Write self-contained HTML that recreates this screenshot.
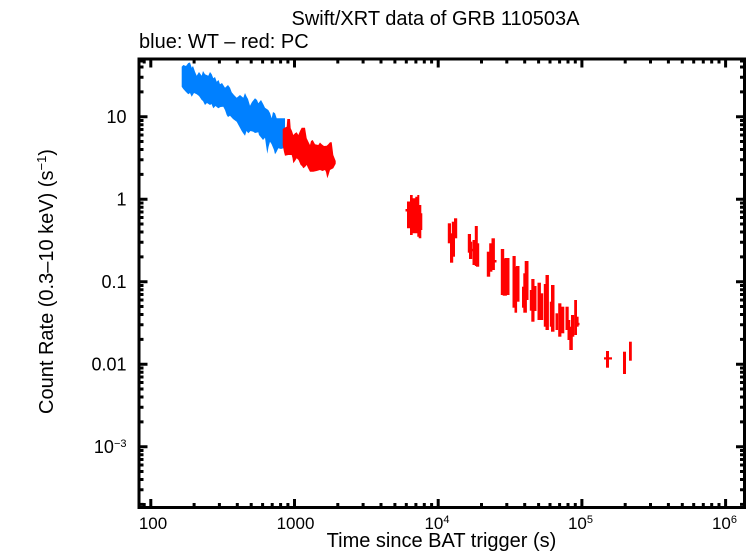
<!DOCTYPE html>
<html>
<head>
<meta charset="utf-8">
<style>
html,body{margin:0;padding:0;background:#fff;}
svg{display:block;}
text{font-family:"Liberation Sans",Arial,sans-serif;fill:#000;}
</style>
</head>
<body>
<svg width="752" height="558" viewBox="0 0 752 558" xmlns="http://www.w3.org/2000/svg">
<rect x="0" y="0" width="752" height="558" fill="#fff"/>
<text x="435.5" y="25" font-size="20" text-anchor="middle">Swift/XRT data of GRB 110503A</text>
<text x="139" y="48" font-size="20">blue: WT – red: PC</text>
<polygon fill="#0080ff" points="181.7,66.7 183.3,65 186,66 188.3,63 190,62.5 191.7,67.7 193,66 195,71.7 196.7,75.7 199,72 201.7,75.7 203,71 205,74.3 208.3,75.7 210,72 211.7,74.3 213.3,78.3 215,77 216.7,81.7 218.5,80 220,84.3 222,83 225,87.7 228,85 230,87.7 231.7,92.3 234,95 236.7,97.7 240,95 243.3,97.7 245,93 246.7,96.7 248,99 250,105.7 252,102 255,98.3 257,100 258.3,103.3 261,100 263.3,104.3 265,107.7 268.3,110 270,113 271.7,118.3 273,112 275,113.3 276.7,118.3 280,118.3 285,118.3 285,147.7 281,149 278.3,148.3 276.5,152 275,154.3 274,150 273.3,148.3 271.5,144 270,141.7 268.5,147 267.3,153.7 266,145 265,137.7 263,140 261.7,138.3 259,135 258.3,132.3 255,133 253.3,131.7 250.5,131 248.3,133.3 246.5,131 245,135.7 243,133 241.7,131 239,126 236.7,121.7 233,119 230,115.7 228,117 226.7,115 225,110 223.3,106.7 220.5,107 218.3,108.3 215.5,106 213.3,108.3 211.5,104 210,105 207,103 205,105 203,101 201.7,100 199,96 196.7,94.3 194,93 191.7,96.7 190,93 188.3,94.3 186,92 183.3,89 181.7,86.7"/>
<g fill="#ff0000">
<polygon points="282.7,129 285,127.5 286.7,126.7 287.3,119 290,119 290.7,128.3 292,131 293.3,135 295,133.3 296.7,132.3 298.3,135 300,131 301.7,127.7 305,127.7 306.7,138.3 308.5,142 310,145 311,141 312.7,140 315,144.3 318.3,145 320,142.5 321.7,144.3 324,146 326.7,145.7 328.3,144.3 330,142.3 331.7,142.3 333.3,155 335.7,161 335.7,163.7 333.3,168.3 330,170 328.5,175 327.3,178.3 326,172 325,170 322.5,171 320,170 316.7,171 313.3,171.7 310,171.7 308,168 306.7,165 305,167 303.3,168.3 302,166 300.7,165 298.5,160 296.7,158.3 295,161 293.3,163.3 292.5,158 291.7,155 288.3,155 285,155.7 284,152 283.3,148.3 282.7,145"/>
<polygon points="407,201.5 410,201.5 410,195 412.7,195 412.7,198.3 415.3,198.3 415.3,196.7 417.3,196.7 417.3,195 419.3,195 419.3,205 421.3,205 421.3,213.3 422.3,213.3 422.3,230 421.3,230 421.3,238.3 418.7,238.3 418.7,236.7 417.3,236.7 417.3,233.3 412.7,233.3 412.7,235 410,235 410,228.3 407,228.3"/>
<rect x="405.5" y="209" width="3" height="2.5"/>
<rect x="447.8" y="223.3" width="3.2" height="20"/>
<rect x="450" y="233.3" width="3.2" height="29.4"/>
<rect x="451.8" y="221.7" width="3.2" height="35"/>
<rect x="454" y="218.3" width="3.2" height="20"/>
<rect x="467.8" y="234" width="3.2" height="18.7"/>
<rect x="469" y="241.7" width="3.2" height="17.3"/>
<rect x="470.7" y="248.8" width="3" height="2.5"/>
<rect x="472.5" y="240" width="3.2" height="25"/>
<rect x="474.8" y="226" width="3" height="40"/>
<rect x="476" y="243.3" width="3.2" height="23.4"/>
<rect x="486.8" y="251.7" width="3.4" height="25"/>
<rect x="489.2" y="243.3" width="3.2" height="28.4"/>
<rect x="491.5" y="238.3" width="3.4" height="31.7"/>
<rect x="494.5" y="260" width="2" height="2.5"/>
<rect x="500.8" y="249" width="3.4" height="46"/>
<rect x="502.7" y="258.3" width="4.2" height="37.4"/>
<rect x="505" y="258" width="4.5" height="37"/>
<rect x="512.5" y="256" width="3.2" height="51.7"/>
<rect x="514.5" y="266.7" width="2.6" height="46"/>
<rect x="516" y="266" width="3.5" height="35.7"/>
<rect x="522" y="286.7" width="3.2" height="21"/>
<rect x="523.3" y="273.3" width="3.6" height="39.4"/>
<rect x="524.7" y="261" width="3.8" height="39"/>
<rect x="529.8" y="290" width="3.2" height="20.7"/>
<rect x="531.3" y="279" width="3.2" height="42.7"/>
<rect x="533.3" y="286" width="3.2" height="25"/>
<rect x="537.5" y="282.7" width="3.4" height="37.3"/>
<rect x="540" y="293.3" width="3.2" height="26.7"/>
<rect x="543.8" y="284" width="3.2" height="42.7"/>
<rect x="545.5" y="275" width="3.4" height="55"/>
<rect x="549.8" y="301.7" width="3.2" height="25"/>
<rect x="551" y="285" width="3.5" height="46.7"/>
<rect x="555.5" y="313.3" width="2.6" height="16.7"/>
<rect x="558.2" y="303.3" width="3.2" height="33.4"/>
<rect x="561" y="306.7" width="3.3" height="26.6"/>
<rect x="565.5" y="306.7" width="3.2" height="23.3"/>
<rect x="567.5" y="320" width="2.8" height="20"/>
<rect x="569.3" y="326.7" width="3.5" height="23.3"/>
<rect x="571" y="315" width="3.3" height="21.7"/>
<rect x="574.2" y="300" width="2.8" height="35"/>
<rect x="576" y="316.7" width="2.6" height="10"/>
<rect x="577" y="322.8" width="2.5" height="2.5"/>
<rect x="606" y="351" width="3" height="16.7"/>
<rect x="604" y="357.3" width="8" height="2.2"/>
<rect x="623" y="351.7" width="3" height="22.3"/>
<rect x="629" y="341.7" width="2.8" height="19"/>
</g>
<rect x="139" y="59" width="605.5" height="448.5" fill="none" stroke="#000" stroke-width="3"/>
<path stroke="#000" stroke-width="3" fill="none" d="M150.8 507.5V499M294.5 507.5V499M438.2 507.5V499M581.9 507.5V499M725.6 507.5V499M150.8 59V67.5M294.5 59V67.5M438.2 59V67.5M581.9 59V67.5M725.6 59V67.5M144.2 507.5V503M194.1 507.5V503M219.4 507.5V503M237.3 507.5V503M251.2 507.5V503M262.6 507.5V503M272.2 507.5V503M280.6 507.5V503M287.9 507.5V503M337.8 507.5V503M363.1 507.5V503M381 507.5V503M394.9 507.5V503M406.3 507.5V503M415.9 507.5V503M424.3 507.5V503M431.6 507.5V503M481.5 507.5V503M506.8 507.5V503M524.7 507.5V503M538.6 507.5V503M550 507.5V503M559.6 507.5V503M568 507.5V503M575.3 507.5V503M625.2 507.5V503M650.5 507.5V503M668.4 507.5V503M682.3 507.5V503M693.7 507.5V503M703.3 507.5V503M711.7 507.5V503M719 507.5V503M144.2 59V63.5M194.1 59V63.5M219.4 59V63.5M237.3 59V63.5M251.2 59V63.5M262.6 59V63.5M272.2 59V63.5M280.6 59V63.5M287.9 59V63.5M337.8 59V63.5M363.1 59V63.5M381 59V63.5M394.9 59V63.5M406.3 59V63.5M415.9 59V63.5M424.3 59V63.5M431.6 59V63.5M481.5 59V63.5M506.8 59V63.5M524.7 59V63.5M538.6 59V63.5M550 59V63.5M559.6 59V63.5M568 59V63.5M575.3 59V63.5M625.2 59V63.5M650.5 59V63.5M668.4 59V63.5M682.3 59V63.5M693.7 59V63.5M703.3 59V63.5M711.7 59V63.5M719 59V63.5"/>
<path stroke="#000" stroke-width="3" fill="none" d="M139 116.7H147.5M139 199.2H147.5M139 281.7H147.5M139 364.2H147.5M139 446.7H147.5M744.5 116.7H736M744.5 199.2H736M744.5 281.7H736M744.5 364.2H736M744.5 446.7H736M139 91.9H143.5M139 77.3H143.5M139 67H143.5M139 61H143.5M139 174.4H143.5M139 159.8H143.5M139 149.5H143.5M139 141.5H143.5M139 135H143.5M139 129.5H143.5M139 124.7H143.5M139 120.5H143.5M139 256.9H143.5M139 242.3H143.5M139 232H143.5M139 224H143.5M139 217.5H143.5M139 212H143.5M139 207.2H143.5M139 203H143.5M139 339.4H143.5M139 324.8H143.5M139 314.5H143.5M139 306.5H143.5M139 300H143.5M139 294.5H143.5M139 289.7H143.5M139 285.5H143.5M139 421.9H143.5M139 407.3H143.5M139 397H143.5M139 389H143.5M139 382.5H143.5M139 377H143.5M139 372.2H143.5M139 368H143.5M139 504.4H143.5M139 489.8H143.5M139 479.5H143.5M139 471.5H143.5M139 465H143.5M139 459.5H143.5M139 454.7H143.5M139 450.5H143.5M744.5 91.9H740M744.5 77.3H740M744.5 67H740M744.5 61H740M744.5 174.4H740M744.5 159.8H740M744.5 149.5H740M744.5 141.5H740M744.5 135H740M744.5 129.5H740M744.5 124.7H740M744.5 120.5H740M744.5 256.9H740M744.5 242.3H740M744.5 232H740M744.5 224H740M744.5 217.5H740M744.5 212H740M744.5 207.2H740M744.5 203H740M744.5 339.4H740M744.5 324.8H740M744.5 314.5H740M744.5 306.5H740M744.5 300H740M744.5 294.5H740M744.5 289.7H740M744.5 285.5H740M744.5 421.9H740M744.5 407.3H740M744.5 397H740M744.5 389H740M744.5 382.5H740M744.5 377H740M744.5 372.2H740M744.5 368H740M744.5 504.4H740M744.5 489.8H740M744.5 479.5H740M744.5 471.5H740M744.5 465H740M744.5 459.5H740M744.5 454.7H740M744.5 450.5H740"/>
<g font-size="17" text-anchor="middle">
<text x="153" y="529">100</text>
<text x="295.5" y="529">1000</text>
<text x="437" y="529">10<tspan font-size="11" dy="-6">4</tspan></text>
<text x="580.5" y="529">10<tspan font-size="11" dy="-6">5</tspan></text>
<text x="724.5" y="529">10<tspan font-size="11" dy="-6">6</tspan></text>
</g>
<g font-size="18" text-anchor="end">
<text x="126.5" y="123">10</text>
<text x="126.5" y="205.5">1</text>
<text x="126.5" y="288">0.1</text>
<text x="126.5" y="370.5">0.01</text>
<text x="126.5" y="453">10<tspan font-size="11" dy="-6">−3</tspan></text>
</g>
<text x="441.5" y="547" font-size="20" text-anchor="middle">Time since BAT trigger (s)</text>
<text transform="translate(53,281.5) rotate(-90)" font-size="20" text-anchor="middle">Count Rate (0.3–10 keV) (s<tspan font-size="13" dy="-7">−1</tspan><tspan dy="7">)</tspan></text>
</svg>
</body>
</html>
